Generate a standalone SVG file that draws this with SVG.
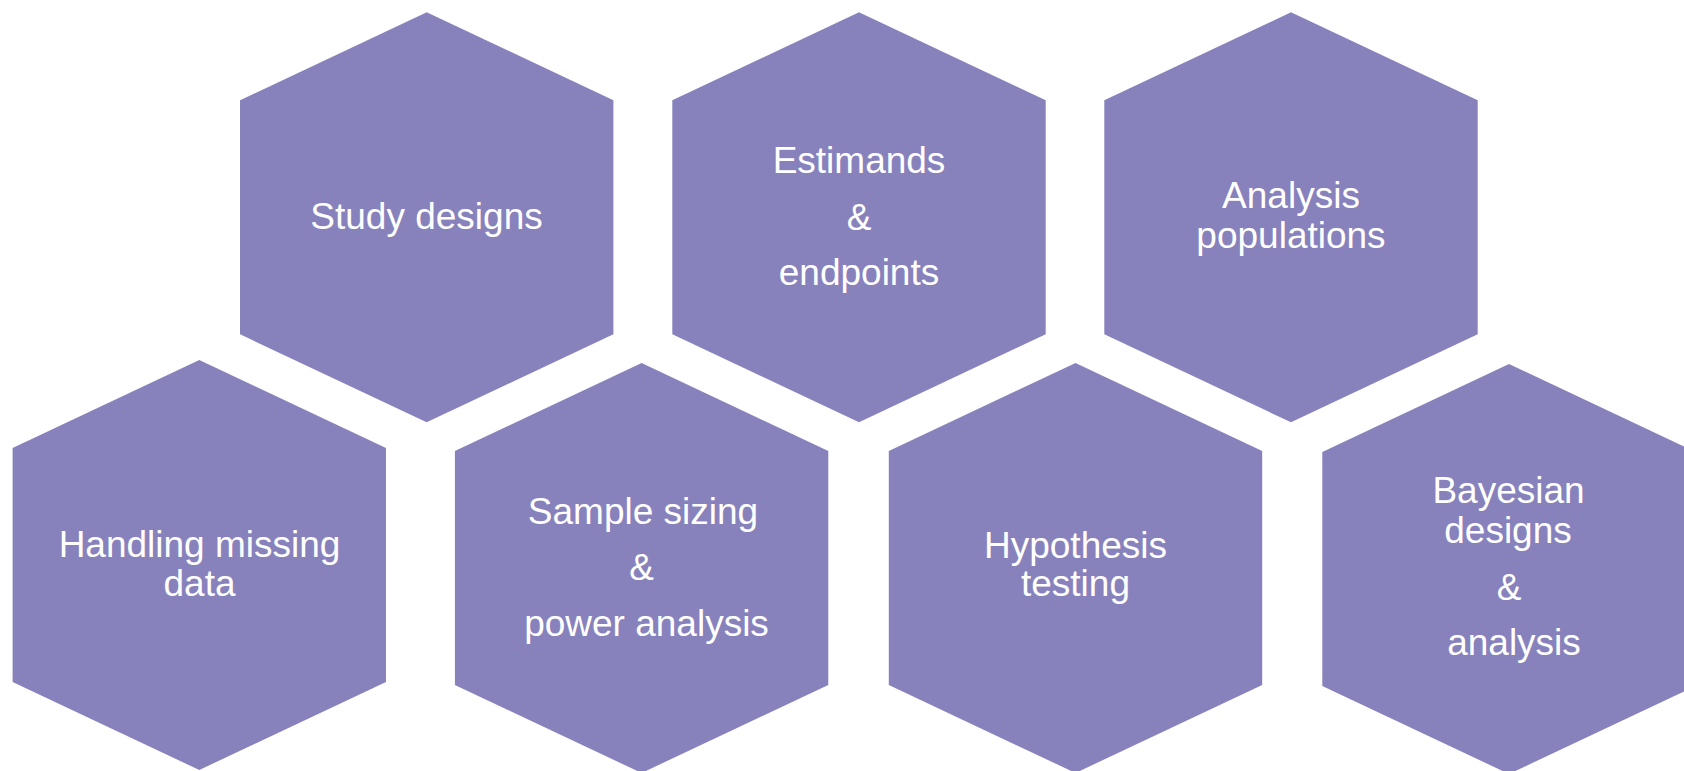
<svg xmlns="http://www.w3.org/2000/svg" xmlns:xlink="http://www.w3.org/1999/xlink" width="1684" height="771" viewBox="0 0 1684 771">
<style>
.hex{fill:#8882bc;}
.lbl{font-family:"Liberation Sans",Arial,sans-serif;font-size:37px;fill:#ffffff;text-anchor:middle;}
</style>
<defs>
<polygon id="hex" points="0,0 186.7,88 186.7,322 0,410 -186.7,322 -186.7,88"/>
</defs>
<rect width="1684" height="771" fill="#ffffff"/>
<g id="study-designs">
<use xlink:href="#hex" href="#hex" class="hex" x="426.7" y="12.3"/>
<text class="lbl" x="426.5" y="229.3">Study designs</text>
</g>
<g id="estimands">
<use xlink:href="#hex" href="#hex" class="hex" x="859" y="12.3"/>
<text class="lbl" x="859" y="173.3">Estimands</text>
<text class="lbl" x="859" y="230">&amp;</text>
<text class="lbl" x="859" y="285">endpoints</text>
</g>
<g id="analysis-populations">
<use xlink:href="#hex" href="#hex" class="hex" x="1291" y="12.3"/>
<text class="lbl" x="1291" y="208.3">Analysis</text>
<text class="lbl" x="1291" y="248.3">populations</text>
</g>
<g id="handling-missing-data">
<use xlink:href="#hex" href="#hex" class="hex" x="199.3" y="360"/>
<text class="lbl" x="199.5" y="556.7">Handling missing</text>
<text class="lbl" x="199.5" y="596">data</text>
</g>
<g id="sample-sizing">
<use xlink:href="#hex" href="#hex" class="hex" x="641.6" y="363"/>
<text class="lbl" x="643" y="524">Sample sizing</text>
<text class="lbl" x="641.6" y="580">&amp;</text>
<text class="lbl" x="646.5" y="636">power analysis</text>
</g>
<g id="hypothesis-testing">
<use xlink:href="#hex" href="#hex" class="hex" x="1075.5" y="363"/>
<text class="lbl" x="1075.5" y="558.3">Hypothesis</text>
<text class="lbl" x="1075.5" y="596">testing</text>
</g>
<g id="bayesian">
<use xlink:href="#hex" href="#hex" class="hex" x="1509" y="364"/>
<text class="lbl" x="1508.5" y="503.3">Bayesian</text>
<text class="lbl" x="1508" y="542.7">designs</text>
<text class="lbl" x="1509" y="600">&amp;</text>
<text class="lbl" x="1514" y="655">analysis</text>
</g>
<g id="connectors"/>
</svg>
